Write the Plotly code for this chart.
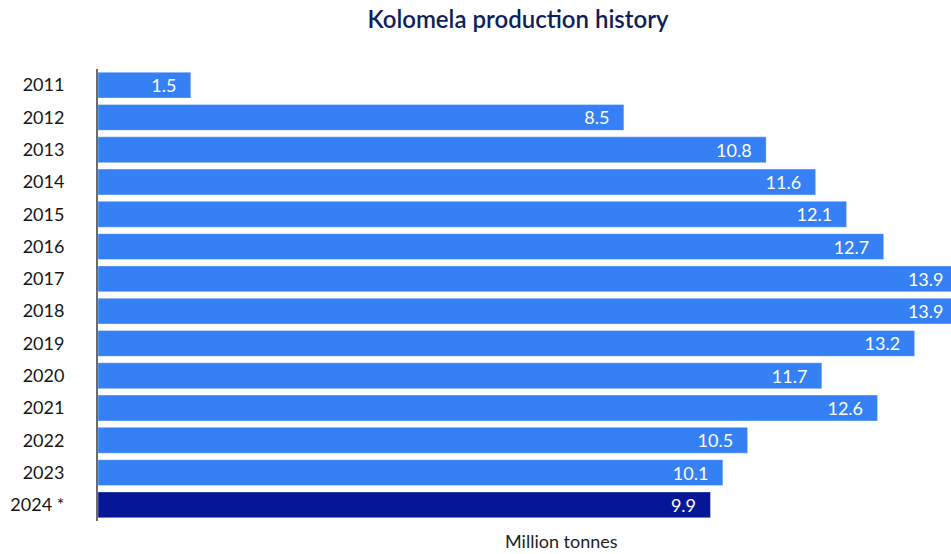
import plotly.graph_objects as go

years = ["2011", "2012", "2013", "2014", "2015", "2016", "2017",
         "2018", "2019", "2020", "2021", "2022", "2023", "2024 *"]
production = [1.5, 8.5, 10.8, 11.6, 12.1, 12.7, 13.9,
              13.9, 13.2, 11.7, 12.6, 10.5, 10.1, 9.9]
title_text = "Kolomela production history"
axis_label = "Million tonnes"

BLUE = "#3580f5"
NAVY = "#051796"
colors = [NAVY if y.endswith("*") else BLUE for y in years]

FONT = "Lato"
pad = "\u00a0\u00a0\u2009"

FIG_W = 1036  # the original chart is wider than the 951px window and is cropped
fig = go.Figure(
    go.Bar(
        x=production,
        y=years,
        orientation="h",
        marker=dict(color=colors, line=dict(color="rgba(255,255,255,0.35)", width=1)),
        text=[f"{v:.1f}{pad}" for v in production],
        textposition="inside",
        insidetextanchor="end",
        textangle=0,
        constraintext="none",
        textfont=dict(family=FONT, size=18, color="white"),
        hoverinfo="skip",
    )
)

fig.update_layout(
    width=FIG_W,
    height=554,
    margin=dict(l=96, r=10, t=69, b=33),
    paper_bgcolor="white",
    plot_bgcolor="white",
    bargap=0.2,
    showlegend=False,
    title=dict(
        text=title_text,
        x=0.5,
        xref="container",
        xanchor="center",
        y=1 - 20 / 554,
        yref="container",
        yanchor="middle",
        font=dict(family=FONT, size=24, color="#0e1f5b", weight=600),
    ),
    xaxis=dict(
        range=[0, 15],
        showgrid=False,
        zeroline=False,
        showline=False,
        showticklabels=False,
        ticks="",
        fixedrange=True,
    ),
    yaxis=dict(
        autorange="reversed",
        showgrid=False,
        zeroline=False,
        showline=True,
        linecolor="#6b6b6b",
        linewidth=2,
        ticks="",
        ticklabelstandoff=28,
        tickfont=dict(family=FONT, size=18, color="#161616"),
        fixedrange=True,
    ),
    annotations=[
        dict(
            text=axis_label,
            xref="paper",
            yref="paper",
            x=(560 - 96) / 930,
            y=-20 / 452,
            xanchor="center",
            yanchor="middle",
            showarrow=False,
            font=dict(family=FONT, size=18, color="#1e1e1e"),
        )
    ],
)

fig.write_html(
    "out.html",
    config={"displayModeBar": False},
    post_script=(
        "document.documentElement.style.overflow='hidden';"
        "document.body.style.margin='0';"
        "document.body.style.overflow='hidden';"
    ),
)
